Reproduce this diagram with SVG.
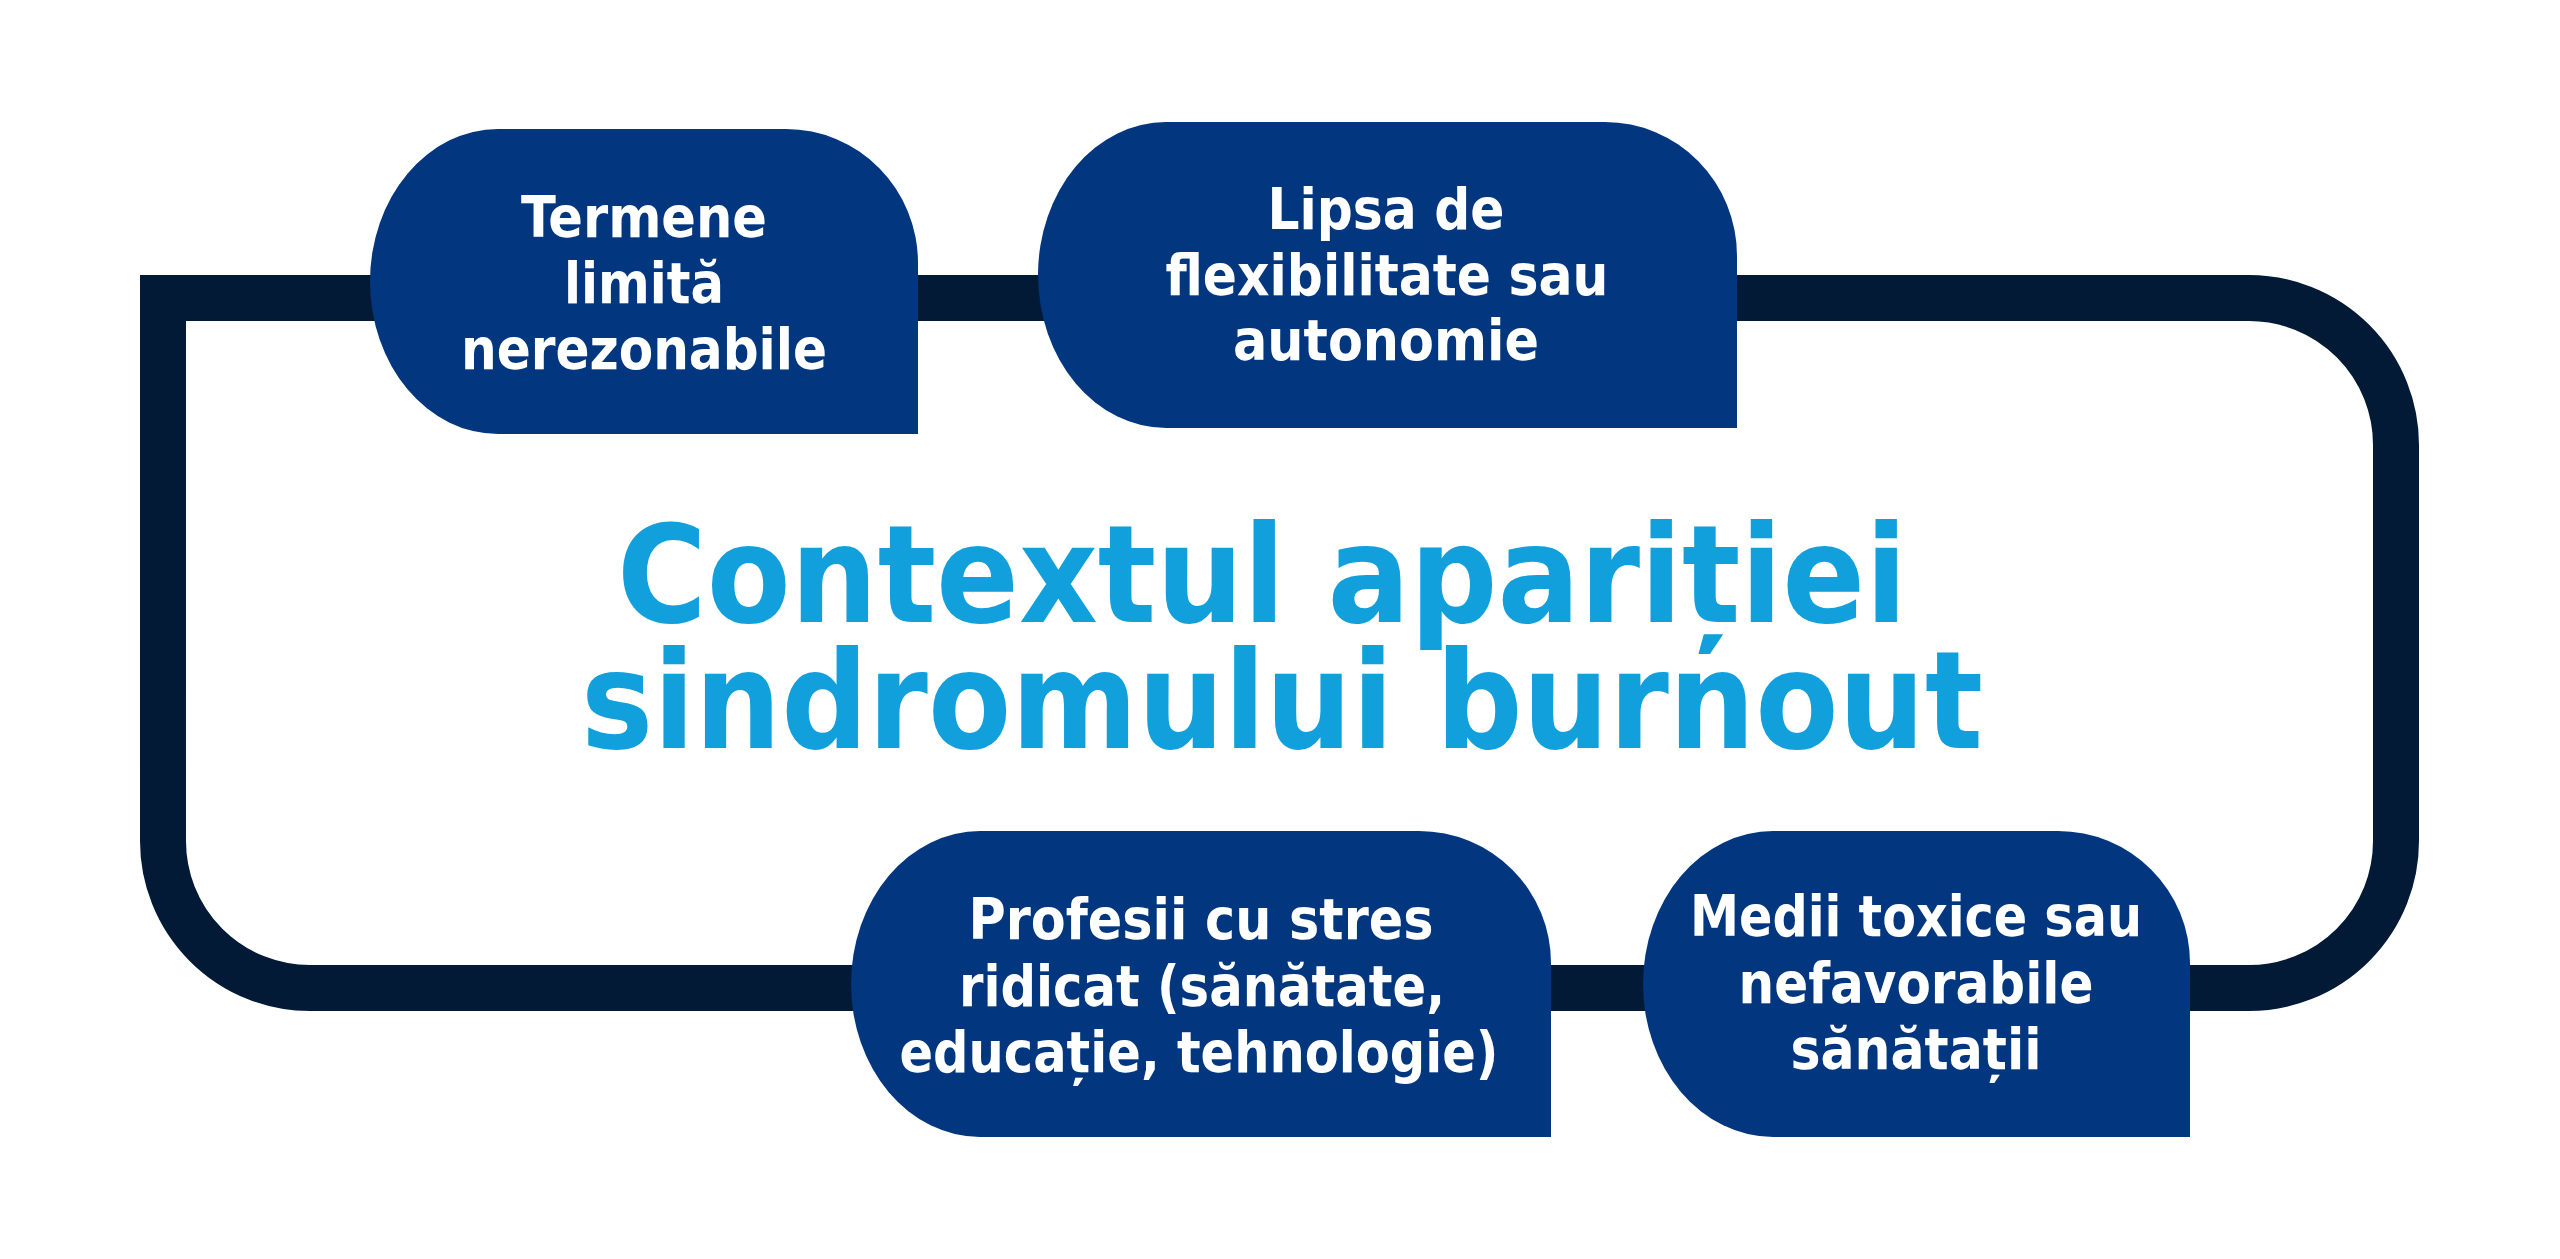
<svg xmlns="http://www.w3.org/2000/svg" width="2560" height="1259" viewBox="0 0 2560 1259">
  <style>
    .frame { fill: none; stroke: #021a35; stroke-width: 46; stroke-linejoin: miter; }
    .node { fill: #02367e; }
    .ntext { fill: #ffffff; font-family: "DejaVu Sans Condensed", "DejaVu Sans", "Liberation Sans", sans-serif; font-weight: bold; font-size: 57px; text-anchor: middle; }
    .title { fill: #12a0dc; font-family: "DejaVu Sans Condensed", "DejaVu Sans", "Liberation Sans", sans-serif; font-weight: bold; font-size: 136px; text-anchor: middle; }
  </style>
  <rect width="2560" height="1259" fill="#ffffff"/>
  <g id="connectors">
    <path class="frame" d="M 163 298 H 2249 A 147 147 0 0 1 2396 445 V 841 A 147 147 0 0 1 2249 988 H 310 A 147 147 0 0 1 163 841 Z"/>
  </g>
  <g id="title">
    <text class="title" x="1262" y="622" textLength="1290" lengthAdjust="spacingAndGlyphs">Contextul apariției</text>
    <text class="title" x="1282" y="748" textLength="1402" lengthAdjust="spacingAndGlyphs">sindromului burnout</text>
  </g>
  <g id="node1">
    <path class="node" d="M 498 129 H 786 A 132 134 0 0 1 918 263 V 434 H 498 A 128 152.5 0 0 1 370 281.5 A 128 152.5 0 0 1 498 129 Z"/>
    <text class="ntext" x="644" y="237" textLength="246" lengthAdjust="spacingAndGlyphs">Termene</text>
    <text class="ntext" x="644" y="303" textLength="160" lengthAdjust="spacingAndGlyphs">limită</text>
    <text class="ntext" x="644" y="369" textLength="366" lengthAdjust="spacingAndGlyphs">nerezonabile</text>
  </g>
  <g id="node2">
    <path class="node" d="M 1166 122 H 1605 A 132 134 0 0 1 1737 256 V 428 H 1166 A 128 153 0 0 1 1038 275 A 128 153 0 0 1 1166 122 Z"/>
    <text class="ntext" x="1386" y="229" textLength="237" lengthAdjust="spacingAndGlyphs">Lipsa de</text>
    <text class="ntext" x="1387" y="295" textLength="443" lengthAdjust="spacingAndGlyphs">flexibilitate sau</text>
    <text class="ntext" x="1386" y="360" textLength="306" lengthAdjust="spacingAndGlyphs">autonomie</text>
  </g>
  <g id="node3">
    <path class="node" d="M 980 831 H 1419 A 132 132 0 0 1 1551 963 V 1137 H 980 A 129 153 0 0 1 851 984 A 129 153 0 0 1 980 831 Z"/>
    <text class="ntext" x="1201" y="939" textLength="465" lengthAdjust="spacingAndGlyphs">Profesii cu stres</text>
    <text class="ntext" x="1202" y="1006" textLength="486" lengthAdjust="spacingAndGlyphs">ridicat (sănătate,</text>
    <text class="ntext" x="1199" y="1072" textLength="599" lengthAdjust="spacingAndGlyphs">educație, tehnologie)</text>
  </g>
  <g id="node4">
    <path class="node" d="M 1773 831 H 2058 A 132 132 0 0 1 2190 963 V 1137 H 1773 A 130 153 0 0 1 1643 984 A 130 153 0 0 1 1773 831 Z"/>
    <text class="ntext" x="1916" y="936" textLength="452" lengthAdjust="spacingAndGlyphs">Medii toxice sau</text>
    <text class="ntext" x="1916" y="1003" textLength="355" lengthAdjust="spacingAndGlyphs">nefavorabile</text>
    <text class="ntext" x="1916" y="1069" textLength="251" lengthAdjust="spacingAndGlyphs">sănătații</text>
  </g>
</svg>
